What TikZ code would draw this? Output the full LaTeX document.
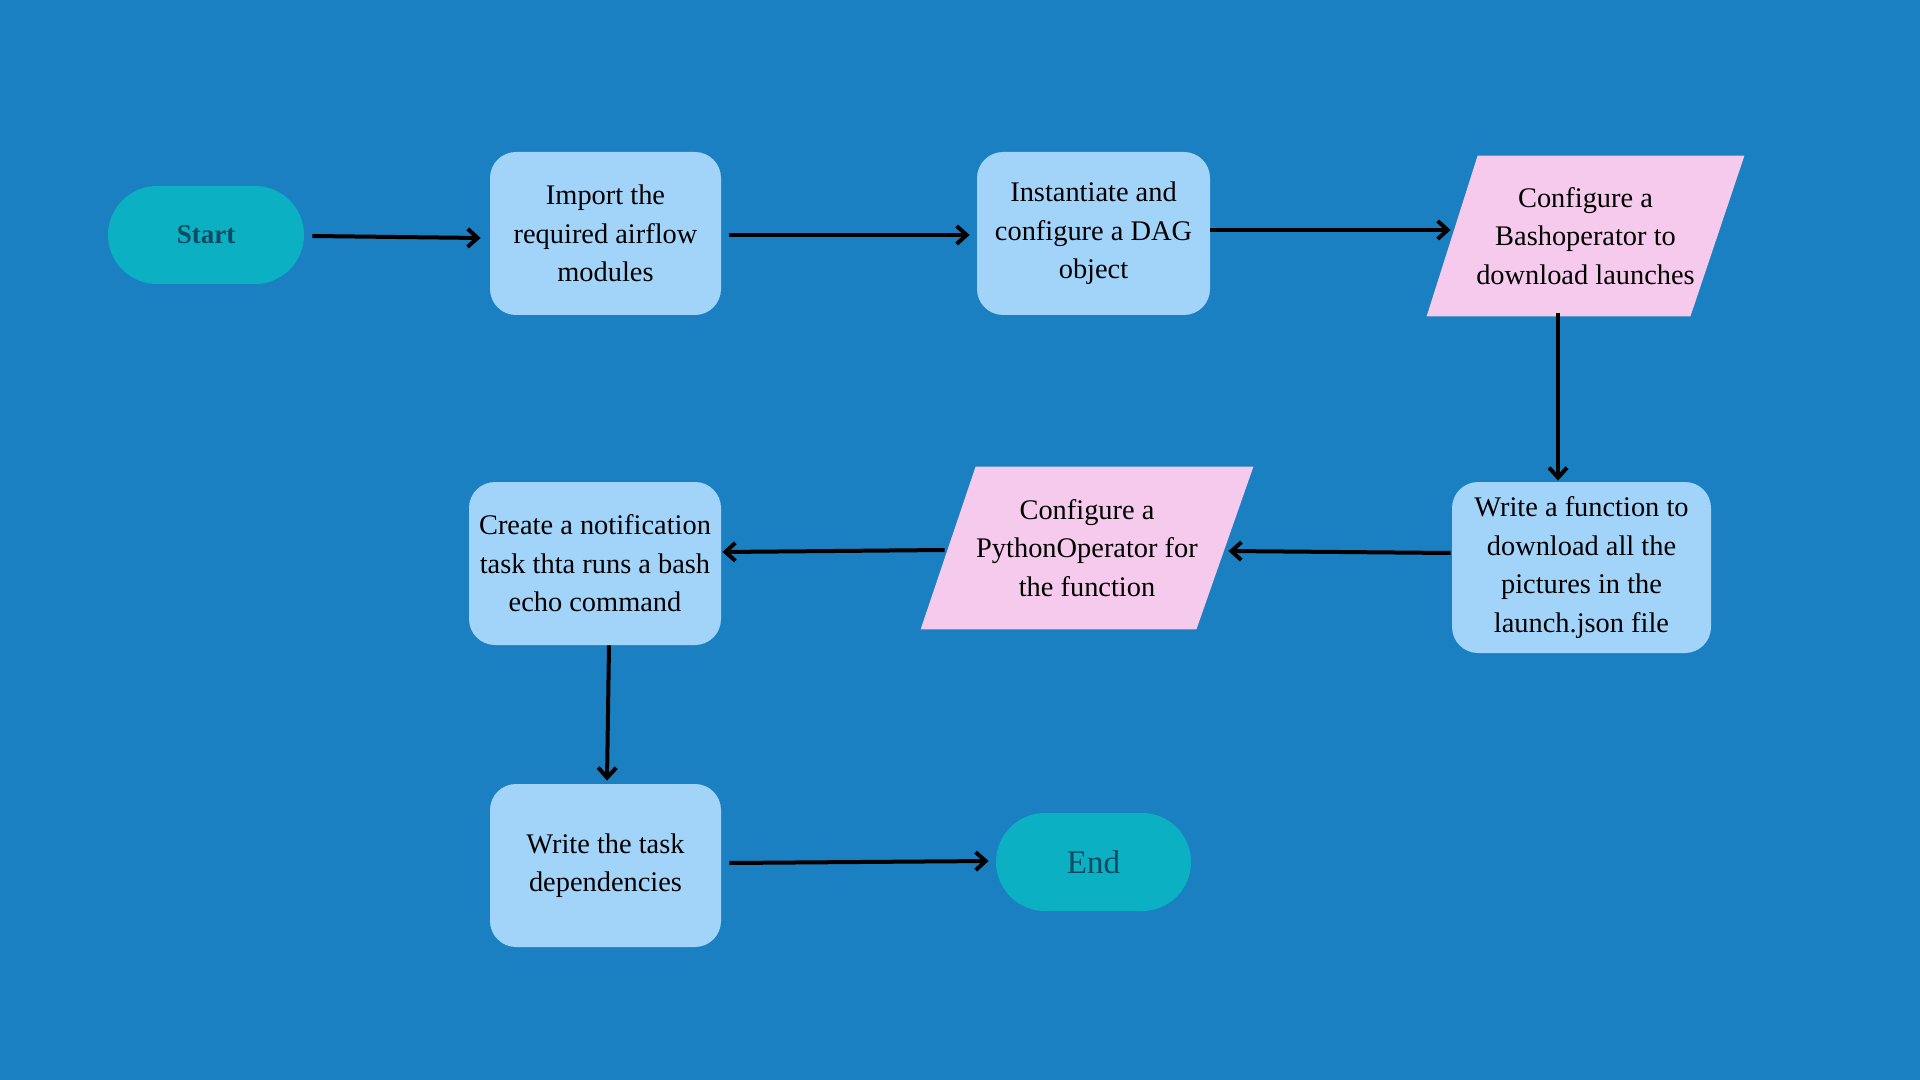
\documentclass[tikz,border=0pt]{standalone}
\usepackage{fontspec}
\setmainfont{Liberation Serif}
\usetikzlibrary{arrows.meta,calc,backgrounds}
\definecolor{bgblue}{HTML}{1B80C2}
\definecolor{boxblue}{HTML}{A2D4FA}
\definecolor{termteal}{HTML}{0BB0C2}
\definecolor{pinkfill}{HTML}{F5CAEC}
\definecolor{darkteal}{HTML}{0F4A63}
\begin{document}
\begin{tikzpicture}[x=0.5pt,y=-0.5pt,
  every node/.style={font=\fontsize{14.2}{19.3}\selectfont, align=center, inner sep=0pt},
  terminal/.style={fill=termteal, rounded corners=24.5pt, minimum width=98pt, minimum height=49pt, text=darkteal},
  process/.style={fill=boxblue, rounded corners=13pt, text=black},
  iobox/.style={text=black},
  iofill/.style={fill=pinkfill},
  flow/.style={draw=black, line width=2pt, -{Straight Barb[length=5pt,width=9pt,line width=2pt]}}
]
\useasboundingbox (0,0) rectangle (1920,1080);
\begin{scope}[on background layer]
  \fill[bgblue] (0,0) rectangle (1920,1080);
\end{scope}

\node[terminal, font=\fontsize{13.5}{16}\selectfont\bfseries] (start) at (206,235) {Start};
\node[process, minimum width=115.5pt, minimum height=81.5pt] (import) at (605.5,233.5) {Import the\\required airflow\\modules};
\node[process, minimum width=116.5pt, minimum height=81.5pt] (dag) at (1093.5,233.5) {Instantiate and\\configure a DAG\\object};
\node[iobox, minimum width=158.5pt, minimum height=80pt] (bash) at (1585.5,236) {Configure a\\Bashoperator to\\download launches};
\node[process, minimum width=129.5pt, minimum height=85.5pt] (func) at (1581.5,567.5) {Write a function to\\download all the\\pictures in the\\launch.json file};
\node[iobox, minimum width=166pt, minimum height=81pt] (python) at (1087,548) {Configure a\\PythonOperator for\\the function};
\node[process, minimum width=126pt, minimum height=81.5pt] (create) at (595,563.5) {Create a notification\\task thta runs a bash\\echo command};
\node[process, minimum width=115.5pt, minimum height=81.5pt] (deps) at (605.5,865.5) {Write the task\\dependencies};
\node[terminal, minimum width=97.5pt, font=\fontsize{16.5}{19}\selectfont] (end) at (1093.5,862) {End};

\begin{scope}[on background layer]
  \fill[iofill] ($(bash.north west)+(51,0)$) -- (bash.north east) -- ($(bash.south east)+(-54,0)$) -- (bash.south west) -- cycle;
  \fill[iofill] ($(python.north west)+(55,0)$) -- (python.north east) -- ($(python.south east)+(-57,0)$) -- (python.south west) -- cycle;
\end{scope}

\draw[flow] ($(start.east)+(8,1)$) -- ($(import.west)+(-9,4.5)$);
\draw[flow] ($(import.east)+(8,1.5)$) -- ($(dag.west)+(-7,1.5)$);
\draw[flow] ($(dag.east)+(0,-3.5)$) -- ($(bash.west)+(24,-6)$);
\draw[flow] ($(bash.south)+(-27.5,-3)$) -- ($(func.north)+(-23.5,-1)$);
\draw[flow] ($(func.west)+(-1,-14.5)$) -- ($(python.east)+(-25,3)$);
\draw[flow] ($(python.west)+(24,2)$) -- ($(create.east)+(1,-11.5)$);
\draw[flow] ($(create.south)+(14,0)$) -- ($(deps.north)+(1.5,-3)$);
\draw[flow] ($(deps.east)+(8,-2.5)$) -- ($(end.west)+(-7,-1)$);
\end{tikzpicture}
\end{document}
